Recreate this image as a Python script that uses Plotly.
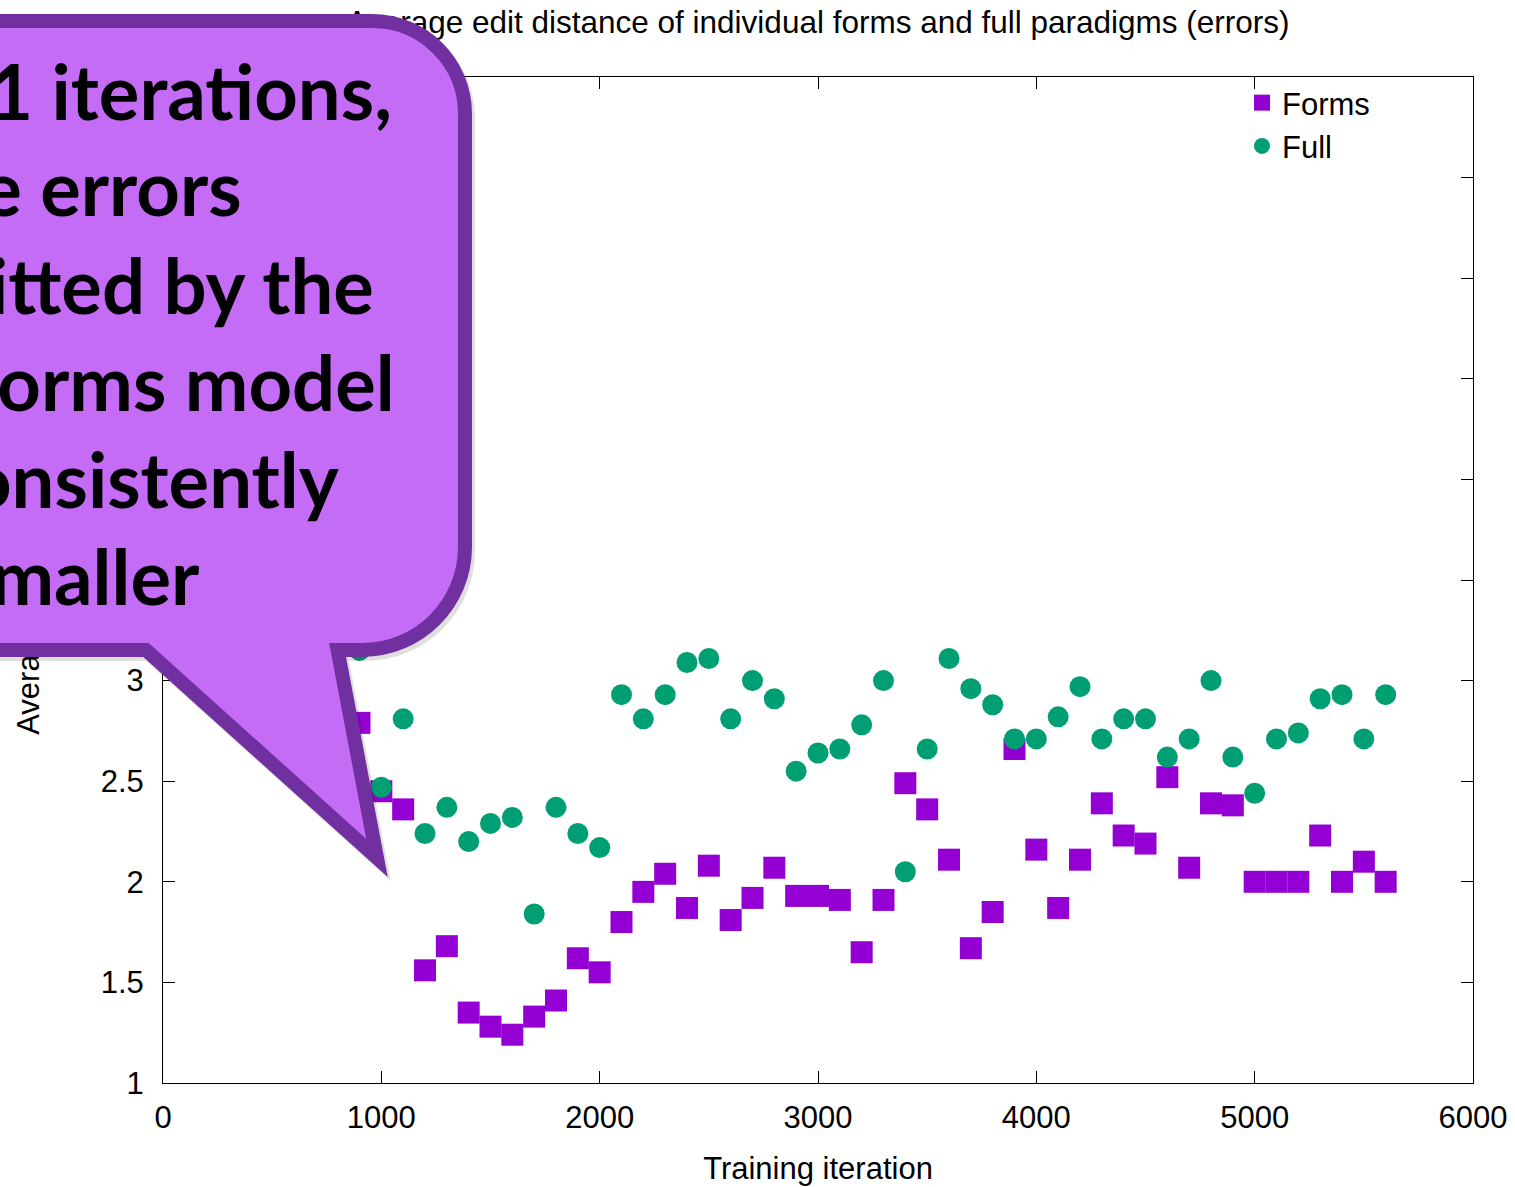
import plotly.graph_objects as go

# ---------------- data ----------------
iterations = [900, 1000, 1100, 1200, 1300, 1400, 1500, 1600, 1700, 1800,
              1900, 2000, 2100, 2200, 2300, 2400, 2500, 2600, 2700, 2800,
              2900, 3000, 3100, 3200, 3300, 3400, 3500, 3600, 3700, 3800,
              3900, 4000, 4100, 4200, 4300, 4400, 4500, 4600, 4700, 4800,
              4900, 5000, 5100, 5200, 5300, 5400, 5500, 5600]

forms = [2.79, 2.45, 2.36, 1.56, 1.68, 1.35, 1.28, 1.24, 1.33, 1.41,
         1.62, 1.55, 1.80, 1.95, 2.04, 1.87, 2.08, 1.81, 1.92, 2.07,
         1.93, 1.93, 1.91, 1.65, 1.91, 2.49, 2.36, 2.11, 1.67, 1.85,
         2.66, 2.16, 1.87, 2.11, 2.39, 2.23, 2.19, 2.52, 2.07, 2.39,
         2.38, 2.00, 2.00, 2.00, 2.23, 2.00, 2.10, 2.00]

full = [3.15, 2.47, 2.81, 2.24, 2.37, 2.20, 2.29, 2.32, 1.84, 2.37,
        2.24, 2.17, 2.93, 2.81, 2.93, 3.09, 3.11, 2.81, 3.00, 2.91,
        2.55, 2.64, 2.66, 2.78, 3.00, 2.05, 2.66, 3.11, 2.96, 2.88,
        2.71, 2.71, 2.82, 2.97, 2.71, 2.81, 2.81, 2.62, 2.71, 3.00,
        2.62, 2.44, 2.71, 2.74, 2.91, 2.93, 2.71, 2.93]

series_names = ["Forms", "Full"]
chart_title = "Average edit distance of individual forms and full paradigms (errors)"
x_title = "Training iteration"
y_title = "Average edit distance"
x_ticks = [0, 1000, 2000, 3000, 4000, 5000, 6000]
y_ticks = [1, 1.5, 2, 2.5, 3, 3.5, 4, 4.5, 5, 5.5, 6]

callout_lines = ["1 iterations,", "the errors", "committed by the",
                 "forms model", "consistently", "smaller"]

# ---------------- layout geometry ----------------
FIG_W, FIG_H = 1515, 1187
ML, MR, MT, MB = 163, 42, 77, 104
PW = FIG_W - ML - MR
PH = FIG_H - MT - MB


def fx(px):
    return (px - ML) / PW


def fy(py):
    return (FIG_H - MB - py) / PH


def P(x, y):
    return f"{fx(x):.5f},{fy(y):.5f}"


TXT = "Liberation Sans, Arial, sans-serif"
FS = 31
PURPLE = "#9400d3"
GREEN = "#009e73"

fig = go.Figure()
fig.add_trace(go.Scatter(
    x=iterations, y=forms, mode="markers", name=series_names[0],
    marker=dict(symbol="square", size=22, color=PURPLE, line=dict(width=0)),
))
fig.add_trace(go.Scatter(
    x=iterations, y=full, mode="markers", name=series_names[1],
    marker=dict(symbol="circle", size=21, color=GREEN, line=dict(width=0)),
))

axis_common = dict(
    showgrid=False, zeroline=False, showline=True, linecolor="black",
    linewidth=1, mirror="ticks", ticks="inside", ticklen=12, tickwidth=1,
    tickcolor="black", tickfont=dict(family=TXT, size=FS, color="black"),
    automargin=False,
)

fig.update_xaxes(range=[0, 6000], tickvals=x_ticks, ticklabelstandoff=7,
                 title=dict(text=x_title, standoff=23,
                            font=dict(family=TXT, size=FS, color="black")),
                 **axis_common)
fig.update_yaxes(range=[1, 6], tickvals=y_ticks, ticklabelstandoff=12,
                 **axis_common)

# Callout bubble (centre line of a 14px border)
callout = (
    f"M{P(-90, 21)} L{P(372, 21)} "
    f"C{P(423.4, 21)} {P(465, 62.6)} {P(465, 114)} "
    f"L{P(465, 547)} "
    f"C{P(465, 603.9)} {P(418.9, 650)} {P(362, 650)} "
    f"L{P(337.6, 650)} L{P(377, 858)} L{P(146, 650)} L{P(-90, 650)} Z"
)
shadow = (
    f"M{P(-90, 25)} L{P(375, 25)} "
    f"C{P(426.4, 25)} {P(468, 66.6)} {P(468, 118)} "
    f"L{P(468, 551)} "
    f"C{P(468, 607.9)} {P(421.9, 654)} {P(365, 654)} "
    f"L{P(340.6, 654)} L{P(380, 862)} L{P(149, 654)} L{P(-90, 654)} Z"
)

shapes = [
    # chart title and y-axis title drawn beneath the callout
    dict(type="rect", xref="paper", yref="paper",
         x0=fx(200), x1=fx(1436), y0=fy(39), y1=fy(-1),
         line=dict(width=0), fillcolor="rgba(0,0,0,0)", layer="above",
         label=dict(text=chart_title, textposition="middle center",
                    font=dict(family=TXT, size=31.5, color="black"))),
    dict(type="rect", xref="paper", yref="paper",
         x0=fx(5), x1=fx(45), y0=fy(1089), y1=fy(83),
         line=dict(width=0), fillcolor="rgba(0,0,0,0)", layer="above",
         label=dict(text=y_title, textposition="middle center", textangle=-90,
                    font=dict(family=TXT, size=FS, color="black"))),
    dict(type="path", xref="paper", yref="paper", path=shadow,
         fillcolor="black", line=dict(color="black", width=14),
         opacity=0.12, layer="above"),
    dict(type="path", xref="paper", yref="paper", path=callout,
         fillcolor="#C46CF6", line=dict(color="#7030A0", width=14),
         layer="above"),
]

baselines = [120, 216, 313, 410, 507, 604]
right_ends = [394, 244, 376, 397, 342, 202]
CFS = 76
annotations = []
for txt, bl, re_ in zip(callout_lines, baselines, right_ends):
    annotations.append(dict(
        text=txt, xref="paper", yref="paper", x=fx(re_), y=fy(bl - 29),
        xanchor="right", yanchor="middle", showarrow=False,
        font=dict(family="Lato, Carlito, sans-serif", size=CFS, color="black",
                  weight="bold"),
    ))

fig.update_layout(
    width=FIG_W, height=FIG_H,
    margin=dict(l=ML, r=MR, t=MT, b=MB, autoexpand=False),
    paper_bgcolor="white", plot_bgcolor="white",
    font=dict(family=TXT, size=FS, color="black"),
    showlegend=True,
    legend=dict(x=fx(1242), xanchor="left", y=fy(76), yanchor="top",
                bgcolor="rgba(0,0,0,0)", font=dict(family=TXT, size=FS, color="black"),
                itemsizing="trace"),
    shapes=shapes,
    annotations=annotations,
)

fig.write_html(
    "out.html",
    config={"displayModeBar": False},
    post_script="document.body.style.margin='0px';"
                "document.documentElement.style.overflow='hidden';",
)
